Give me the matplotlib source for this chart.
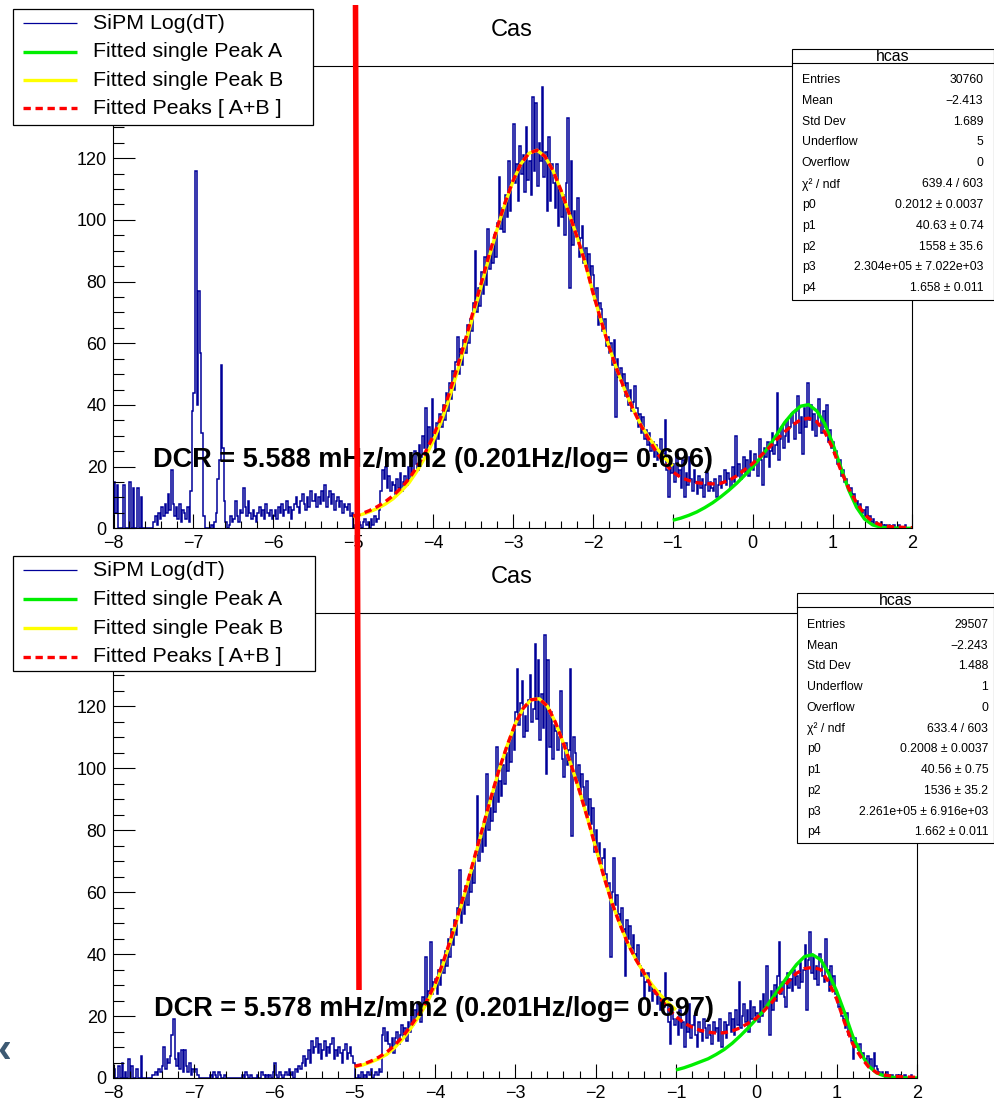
import numpy as np
import matplotlib
matplotlib.use("Agg")
import matplotlib.pyplot as plt
from matplotlib.patches import Rectangle
from matplotlib.lines import Line2D
from matplotlib.ticker import MultipleLocator, FuncFormatter

plt.rcParams["font.family"] = ["Liberation Sans", "DejaVu Sans"]

W, H = 995, 1099
X_LO, X_HI = -8.0, 2.0
BIN_W = 0.02

# log10(dT) histogram counts, 0.02 wide bins from -8 to 2 (one row = half a unit)
top_counts = [
    15, 5, 14, 0, 0, 0, 14, 0, 0, 0, 15, 0, 13, 0, 0, 13, 0, 10, 0, 0, 0, 0, 0, 0, 0,
    2, 4, 1, 5, 3, 7, 4, 8, 5, 11, 6, 19, 8, 4, 7, 3, 8, 2, 6, 5, 3, 7, 2, 12, 38,
    44, 116, 40, 77, 57, 31, 4, 0, 0, 0, 0, 1, 0, 2, 5, 16, 22, 53, 26, 9, 2, 0, 1, 4, 2,
    3, 9, 4, 2, 6, 5, 13, 7, 4, 9, 5, 3, 6, 4, 2, 5, 7, 4, 6, 3, 8, 5, 4, 6, 3,
    4, 6, 3, 7, 5, 8, 4, 6, 9, 5, 7, 3, 6, 8, 10, 7, 5, 9, 11, 8, 6, 10, 7, 12, 9,
    9, 11, 7, 10, 8, 12, 9, 14, 7, 10, 12, 8, 11, 6, 9, 10, 7, 9, 5, 8, 7, 6, 8, 4, 5,
    0, 1, 0, 2, 1, 0, 2, 3, 1, 2, 0, 3, 1, 4, 2, 3, 6, 12, 19, 16, 20, 13, 17, 12, 15,
    14, 11, 16, 13, 18, 12, 15, 17, 14, 20, 16, 22, 18, 25, 21, 19, 27, 23, 30, 26, 39, 24, 33, 28, 42,
    30, 25, 34, 29, 37, 33, 40, 35, 44, 38, 47, 42, 51, 45, 54, 62, 50, 58, 53, 61, 57, 66, 60, 68, 64,
    73, 90, 70, 78, 72, 83, 76, 88, 79, 97, 84, 91, 86, 95, 88, 99, 114, 97, 104, 96, 108, 101, 119, 103, 112,
    131, 112, 118, 106, 124, 115, 121, 109, 130, 113, 119, 108, 140, 116, 138, 111, 125, 119, 143, 114, 122, 103, 127, 106, 118,
    112, 104, 118, 98, 110, 101, 108, 95, 112, 133, 78, 119, 92, 103, 96, 107, 88, 94, 98, 86, 91, 84, 89, 80, 85,
    82, 74, 78, 66, 73, 71, 64, 68, 59, 62, 57, 60, 53, 61, 36, 55, 49, 52, 46, 50, 43, 47, 40, 45, 38,
    41, 46, 39, 33, 37, 31, 36, 29, 32, 27, 31, 25, 28, 23, 27, 22, 25, 29, 21, 24, 35, 19, 10, 22, 18,
    21, 15, 24, 17, 19, 13, 22, 10, 18, 14, 23, 16, 12, 19, 15, 11, 17, 13, 16, 10, 14, 18, 12, 15, 13,
    12, 16, 10, 14, 17, 13, 15, 19, 14, 18, 16, 13, 20, 15, 30, 17, 21, 16, 19, 23, 18, 22, 17, 25, 21,
    19, 24, 21, 17, 29, 22, 14, 26, 23, 28, 20, 25, 31, 24, 27, 44, 22, 29, 33, 26, 30, 35, 28, 33, 37,
    34, 29, 38, 43, 31, 36, 24, 39, 33, 47, 35, 40, 32, 37, 30, 34, 42, 36, 31, 38, 33, 40, 28, 32, 26,
    28, 24, 25, 21, 22, 17, 19, 15, 16, 14, 12, 13, 10, 11, 8, 9, 7, 8, 5, 6, 4, 7, 3, 4, 2,
    3, 1, 2, 1, 0, 2, 1, 0, 1, 0, 1, 0, 0, 1, 0, 0, 1, 0, 0, 0, 1, 0, 0, 0, 0,
]

bottom_counts = [
    3, 0, 0, 4, 0, 5, 0, 2, 0, 6, 0, 4, 0, 0, 3, 0, 0, 7, 0, 0, 0, 0, 0, 0, 1,
    1, 2, 1, 3, 2, 4, 10, 3, 6, 5, 7, 14, 19, 6, 4, 8, 3, 9, 2, 9, 4, 2, 5, 1, 3,
    2, 3, 1, 0, 0, 0, 0, 0, 0, 0, 1, 0, 2, 1, 0, 2, 1, 0, 0, 1, 0, 0, 0, 0, 0,
    0, 0, 0, 0, 0, 1, 0, 2, 1, 0, 1, 0, 0, 0, 1, 0, 0, 2, 1, 0, 1, 0, 1, 0, 2,
    5, 1, 0, 2, 1, 0, 1, 2, 1, 3, 1, 2, 0, 3, 2, 4, 3, 5, 7, 4, 6, 9, 5, 12, 8,
    10, 13, 8, 11, 6, 9, 12, 7, 10, 8, 11, 13, 6, 9, 7, 10, 8, 5, 9, 11, 6, 8, 10, 7, 5,
    0, 0, 1, 0, 2, 0, 1, 0, 2, 1, 3, 0, 1, 2, 1, 3, 2, 14, 16, 12, 15, 11, 9, 13, 8,
    13, 15, 11, 14, 17, 13, 16, 12, 18, 15, 20, 17, 22, 19, 24, 21, 18, 26, 23, 39, 25, 28, 44, 27, 31,
    32, 27, 35, 30, 38, 34, 41, 36, 45, 39, 48, 43, 51, 46, 55, 67, 50, 58, 53, 62, 56, 65, 60, 67, 63,
    72, 91, 70, 77, 73, 82, 75, 98, 80, 87, 83, 92, 86, 107, 89, 96, 91, 101, 95, 105, 99, 109, 102, 112, 106,
    118, 132, 114, 121, 128, 110, 117, 112, 122, 130, 115, 119, 140, 116, 135, 109, 124, 113, 143, 98, 135, 107, 118, 103, 114,
    112, 106, 110, 125, 103, 97, 108, 101, 106, 132, 78, 110, 105, 96, 101, 92, 98, 94, 88, 96, 85, 90, 82, 87, 73,
    80, 72, 76, 69, 71, 74, 66, 62, 63, 39, 60, 71, 56, 59, 53, 50, 55, 48, 33, 51, 45, 49, 42, 46, 40,
    38, 43, 36, 33, 35, 26, 31, 34, 28, 30, 25, 29, 27, 24, 28, 22, 26, 23, 34, 25, 18, 11, 21, 19, 17,
    19, 14, 22, 16, 18, 10, 21, 15, 24, 13, 17, 20, 14, 10, 18, 15, 12, 19, 16, 13, 17, 14, 11, 18, 15,
    16, 12, 19, 10, 15, 18, 13, 17, 21, 15, 19, 14, 22, 17, 31, 16, 20, 24, 18, 22, 15, 25, 19, 23, 20,
    21, 18, 25, 20, 27, 23, 36, 24, 14, 28, 22, 30, 25, 33, 44, 27, 31, 26, 23, 34, 29, 32, 28, 35, 30,
    33, 29, 37, 31, 35, 43, 22, 38, 47, 34, 39, 32, 36, 30, 40, 38, 33, 31, 45, 35, 28, 36, 30, 33, 27,
    26, 23, 24, 20, 19, 16, 21, 14, 15, 12, 6, 13, 10, 9, 11, 7, 8, 6, 5, 7, 4, 6, 3, 8, 4,
    3, 2, 1, 2, 1, 0, 2, 1, 0, 1, 0, 0, 1, 0, 1, 0, 0, 1, 0, 0, 0, 1, 0, 0, 0,
]

# fitted curves, sampled every 0.1 in log10(dT)
peak_b_x = np.linspace(-5.0, -1.0, 41)
sum_x = np.linspace(-5.0, 2.0, 71)
peak_a_x = np.linspace(-1.0, 2.0, 31)

top_peak_b = [3.8, 4.4, 5.3, 6.4, 7.8, 9.6, 12.0, 14.8, 18.6, 23.0,
              28.2, 34.5, 42.0, 50.5, 59.5, 69.0, 78.3, 87.8, 96.8, 105.2,
              112.5, 118.2, 121.6, 122.6, 120.6, 116.0, 109.6, 102.3, 94.6, 86.4,
              76.5, 67.5, 59.0, 51.5, 44.8, 38.8, 33.6, 29.4, 25.9, 22.8, 20.2]
top_sum = [4.0, 4.7, 5.7, 7.0, 8.6, 10.6, 13.1, 16.1, 20.0, 24.5,
           29.8, 36.1, 43.6, 52.0, 60.8, 70.2, 79.3, 88.6, 97.4, 105.6,
           112.7, 118.3, 121.6, 122.6, 120.6, 116.0, 109.6, 102.3, 94.6, 86.4,
           76.5, 67.5, 59.0, 51.5, 44.8, 38.8, 33.4,
           28.8, 24.5, 21.0, 18.3, 16.5, 15.5, 14.8, 14.5, 14.4, 14.6,
           15.5, 17.0, 19.0, 21.0, 23.5, 26.0, 28.8, 31.3, 33.5, 35.2,
           35.7, 34.6, 31.3, 26.0, 19.0, 13.0, 8.3, 4.5, 2.2, 1.1,
           0.6, 0.4, 0.3, 0.2]
top_peak_a = [2.6, 3.3, 4.2, 5.3, 6.7, 8.3, 10.2, 12.3, 14.6, 17.2,
              19.9, 23.0, 26.5, 30.3, 34.3, 37.4, 39.6, 40.1, 38.1, 34.0,
              27.6, 20.0, 12.5, 6.8, 3.0, 1.1, 0.4, 0.1, 0.05, 0.0, 0.0]

bottom_peak_b = [3.6, 4.2, 5.1, 6.2, 7.6, 9.8, 12.6, 16.0, 19.8, 24.2,
                 29.5, 36.5, 44.5, 53.2, 62.0, 71.5, 81.0, 90.5, 99.5, 107.3,
                 114.3, 119.4, 122.1, 122.4, 120.0, 114.8, 108.0, 100.7, 92.6, 83.8,
                 74.5, 65.3, 56.8, 49.8, 43.5, 38.3, 34.0, 30.2, 27.0, 24.3, 22.0]
bottom_sum = [3.8, 4.4, 5.4, 6.7, 8.3, 10.6, 13.4, 16.8, 20.6, 25.0,
              30.3, 37.2, 45.2, 53.8, 62.6, 72.0, 81.4, 90.8, 99.7, 107.4,
              114.3, 119.4, 122.1, 122.4, 120.0, 114.8, 108.0, 100.7, 92.6, 83.8,
              74.5, 65.3, 56.8, 49.8, 43.5, 38.3, 34.0,
              29.2, 25.8, 22.5, 19.8, 17.8, 16.4, 15.4, 14.8, 14.5, 14.6,
              15.2, 16.2, 17.7, 19.3, 21.8, 24.6, 28.0, 31.2, 33.8, 35.3,
              35.7, 35.0, 31.0, 25.5, 17.8, 11.0, 6.8, 3.5, 1.7, 0.9,
              0.6, 0.4, 0.3, 0.2]
bottom_peak_a = [2.6, 3.3, 4.2, 5.2, 6.2, 7.6, 9.2, 11.2, 13.6, 16.2,
                 19.0, 22.0, 25.8, 29.5, 33.2, 36.6, 39.2, 39.8, 38.2, 33.8,
                 28.0, 21.0, 13.5, 8.0, 3.8, 1.6, 0.6, 0.2, 0.05, 0.0, 0.0]

legend_labels = ["SiPM Log(dT)", "Fitted single Peak A", "Fitted single Peak B", "Fitted Peaks [ A+B ]"]
stat_labels = ["Entries", "Mean", "Std Dev", "Underflow", "Overflow", "χ² / ndf",
               "p0", "p1", "p2", "p3", "p4"]
top_stats = ["30760", "−2.413", "1.689", "5", "0", "639.4 / 603",
             "0.2012 ± 0.0037", "40.63 ± 0.74", "1558 ± 35.6",
             "2.304e+05 ± 7.022e+03", "1.658 ± 0.011"]
bottom_stats = ["29507", "−2.243", "1.488", "1", "0", "633.4 / 603",
                "0.2008 ± 0.0037", "40.56 ± 0.75", "1536 ± 35.2",
                "2.261e+05 ± 6.916e+03", "1.662 ± 0.011"]
top_dcr = "DCR = 5.588 mHz/mm2 (0.201Hz/log= 0.696)"
bottom_dcr = "DCR = 5.578 mHz/mm2 (0.201Hz/log= 0.697)"

HIST_COLOR = "#000099"
GREEN = "#00ee00"
YELLOW = "#ffff00"
RED = "#ff0000"

fig = plt.figure(figsize=(W / 100, H / 100), dpi=100)


def fx(px):
    return px / W


def fy(py):
    return 1 - py / H


def box(x0, y0, x1, y1, lw=0.9):
    fig.patches.append(Rectangle((fx(x0), fy(y1)), fx(x1) - fx(x0), fy(y0) - fy(y1),
                                 transform=fig.transFigure, facecolor="white",
                                 edgecolor="black", lw=lw, zorder=5))


def y_label(v, pos):
    # the top label sits under the legend box, leave it blank
    return "" if v > 130 else f"{v:.0f}"


def panel(frame, counts, peak_a, peak_b, total, dcr, stats, legend_box, legend_rows,
          stat_box, stat_sep, stat_rows, stat_lx, stat_rx, title_y):
    l, t, r, b = frame
    ax = fig.add_axes([fx(l), fy(b), fx(r) - fx(l), fy(t) - fy(b)])
    edges = X_LO + BIN_W * np.arange(len(counts) + 1)
    ax.stairs(counts, edges, color=HIST_COLOR, lw=1.1)
    ax.plot(peak_a_x, peak_a, color=GREEN, lw=2.4, solid_capstyle="butt")
    ax.plot(peak_b_x, peak_b, color=YELLOW, lw=2.4, solid_capstyle="butt")
    ax.plot(sum_x, total, color=RED, lw=2.4, ls=(0, (2.2, 1.4)))
    ax.set_xlim(X_LO, X_HI)
    ax.set_ylim(0, 150)
    ax.xaxis.set_major_locator(MultipleLocator(1))
    ax.xaxis.set_minor_locator(MultipleLocator(0.2))
    ax.yaxis.set_major_locator(MultipleLocator(20))
    ax.yaxis.set_minor_locator(MultipleLocator(5))
    ax.yaxis.set_major_formatter(FuncFormatter(y_label))
    ax.tick_params(which="both", direction="in", top=False, right=False,
                   labelsize=13, width=0.8, pad=4.8, color="black")
    ax.tick_params(axis="y", which="major", length=16)
    ax.tick_params(axis="y", which="minor", length=8)
    ax.tick_params(axis="x", which="major", length=10)
    ax.tick_params(axis="x", which="minor", length=5)
    for s in ax.spines.values():
        s.set_linewidth(0.8)
    ax.text(-7.5, 20, dcr, fontsize=19.5, fontweight="bold", va="baseline", ha="left")

    # title
    fig.text(fx(512), fy(title_y), "Cas", fontsize=17, ha="center", va="center")

    # legend
    box(*legend_box)
    styles = [dict(color=HIST_COLOR, lw=0.9),
              dict(color=GREEN, lw=2.4),
              dict(color=YELLOW, lw=2.4),
              dict(color=RED, lw=2.4, ls=(0, (2.2, 1.4)))]
    for y, lab, st in zip(legend_rows, legend_labels, styles):
        fig.lines.append(Line2D([fx(23), fx(77)], [fy(y), fy(y)],
                                transform=fig.transFigure, zorder=6,
                                solid_capstyle="butt", **st))
        fig.text(fx(93), fy(y), lab, fontsize=15.4, ha="left", va="center", zorder=6)

    # statistics box
    x0, y0, x1, y1 = stat_box
    box(x0, y0, x1, y1, lw=0.8)
    fig.lines.append(Line2D([fx(x0), fx(x1)], [fy(stat_sep), fy(stat_sep)],
                            transform=fig.transFigure, color="black", lw=0.8, zorder=6))
    fig.text(fx((x0 + x1) / 2), fy((y0 + stat_sep) / 2), "hcas", fontsize=11.4,
             ha="center", va="center", zorder=6)
    for y, lab, val in zip(stat_rows, stat_labels, stats):
        fig.text(fx(stat_lx), fy(y), lab, fontsize=8.8, ha="left", va="center", zorder=6)
        fig.text(fx(stat_rx), fy(y), val, fontsize=8.8, ha="right", va="center", zorder=6)
    return ax


panel((113.5, 65.7, 912.5, 528.3), top_counts, top_peak_a, top_peak_b, top_sum,
      top_dcr, top_stats,
      (13.3, 9.3, 313.3, 125), [23.3, 51.7, 80, 108.3],
      (791.7, 49.3, 994, 300), 63.3, list(80 + 20.83 * np.arange(11)), 801.7, 983.3, 30)

panel((113.5, 613.3, 917, 1078), bottom_counts, bottom_peak_a, bottom_peak_b, bottom_sum,
      bottom_dcr, bottom_stats,
      (13.3, 556, 315, 670.7), [570, 599.3, 628.3, 656.7],
      (796.7, 593.3, 994, 843.3), 607.3, list(625 + 20.73 * np.arange(11)), 806.7, 988.3, 577)

# hand-drawn marker at the start of the fit range
fig.lines.append(Line2D([fx(355.5), fx(359)], [fy(5), fy(990)], transform=fig.transFigure,
                        color=RED, lw=4, solid_capstyle="butt", zorder=10))

fig.text(fx(-3), fy(1051), "‹", fontsize=30, fontweight="bold", color="#3d5a73",
         ha="left", va="center")

fig.savefig("out.png", dpi=100)
